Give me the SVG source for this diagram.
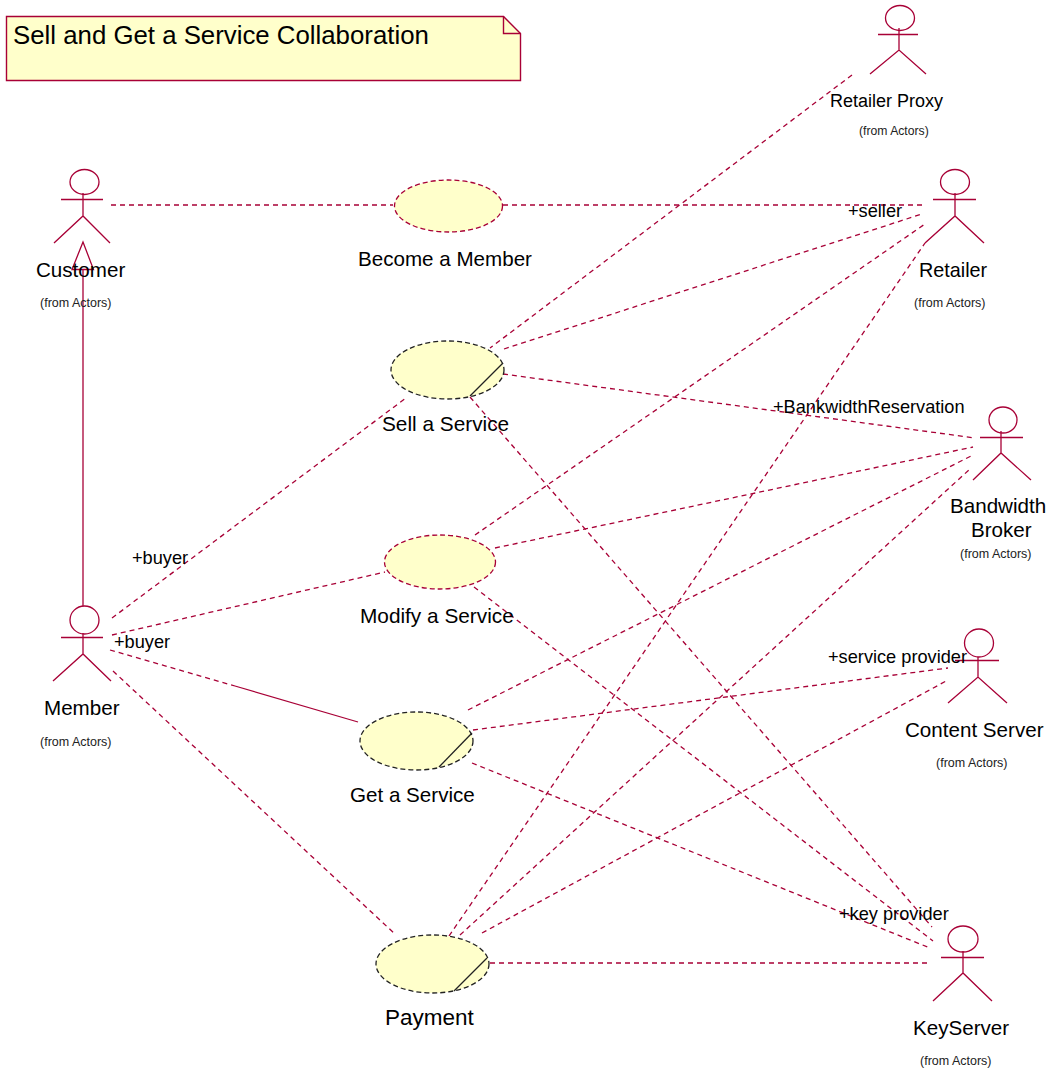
<svg xmlns="http://www.w3.org/2000/svg" width="1052" height="1071" viewBox="0 0 1052 1071">
<style>
text{font-family:"Liberation Sans",Arial,sans-serif;fill:#000}
.n{font-size:20.6px}
.w{font-size:20.8px}
.s{font-size:12.5px;fill:#222}
.r{font-size:18.2px}
.a{fill:none;stroke:#A80036;stroke-width:1.3}
.uc{fill:#FFFFCB;stroke-width:1.3;stroke-dasharray:5 3}
.red{stroke:#A80036}
.blk{stroke:#222}
.d{stroke:#222;stroke-width:1.3;fill:none}
#connectors line{stroke:#A80036;stroke-width:1.3;fill:none}
#connectors line.dash{stroke-dasharray:5 4}
</style>
<rect width="1052" height="1071" fill="#fff"/>
<g id="note">
<path d="M6.500 16.500H503.500L520.500 33.500V80.500H6.500Z" fill="#FFFFCB" stroke="#A80036" stroke-width="1.400"/>
<path d="M503.500 16.500V33.500H520.500" fill="none" stroke="#A80036" stroke-width="1.400"/>
<text x="13" y="44" font-size="25.800">Sell and Get a Service Collaboration</text>
</g>
<g id="connectors">
<line class="dash" x1="111" y1="205" x2="393" y2="205"/>
<line class="dash" x1="503" y1="205" x2="922" y2="205"/>
<line class="dash" x1="852" y1="75" x2="490" y2="348"/>
<line class="dash" x1="504" y1="349" x2="922" y2="214"/>
<line class="dash" x1="475" y1="535" x2="925" y2="224"/>
<line class="dash" x1="449" y1="936" x2="925" y2="243"/>
<line class="dash" x1="503" y1="374" x2="975" y2="438"/>
<line class="dash" x1="495" y1="548" x2="973" y2="447"/>
<line class="dash" x1="468" y1="710" x2="973" y2="455"/>
<line class="dash" x1="460" y1="935" x2="970" y2="469"/>
<line class="dash" x1="473" y1="730" x2="948" y2="668"/>
<line class="dash" x1="482" y1="933" x2="948" y2="680"/>
<line class="dash" x1="470" y1="397" x2="932" y2="927"/>
<line class="dash" x1="474" y1="587" x2="933" y2="941"/>
<line class="dash" x1="472" y1="763" x2="930" y2="948"/>
<line class="dash" x1="490" y1="963" x2="930" y2="963"/>
<line class="dash" x1="112" y1="618" x2="406" y2="398"/>
<line class="dash" x1="112" y1="635" x2="385" y2="572"/>
<line class="dash" x1="110" y1="650" x2="235" y2="686"/>
<line x1="235" y1="686" x2="358" y2="722"/>
<line class="dash" x1="113" y1="671" x2="396" y2="935"/>
<line x1="83" y1="606" x2="83" y2="270"/>
<path d="M83 242L72 269.500H93.500Z" fill="none" stroke="#A80036" stroke-width="1.300"/>
</g>
<g id="customer">
<ellipse class="a" cx="84.500" cy="182" rx="14.500" ry="12.500"/>
<path class="a" d="M61 199.500H103M83 193V216M54 243L83 216L110 243"/>
<text class="n" x="36" y="277">Customer</text>
<text class="s" x="40" y="307">(from Actors)</text>
</g>
<g id="member">
<ellipse class="a" cx="84.500" cy="620" rx="14.500" ry="14"/>
<path class="a" d="M61 637.500H103M83 633V654M53 681L83 654L111 681"/>
<text class="n" x="44" y="715">Member</text>
<text class="s" x="40" y="746">(from Actors)</text>
</g>
<g id="retailer-proxy">
<ellipse class="a" cx="900" cy="18" rx="14.500" ry="12.500"/>
<path class="a" d="M878 34.500H918M899 28V50M870 74L899 50L926 74"/>
<text class="r" x="830" y="107" style="font-size:18px">Retailer Proxy</text>
<text class="s" x="859" y="135" style="font-size:12.200px">(from Actors)</text>
</g>
<g id="retailer">
<ellipse class="a" cx="955" cy="182" rx="14.500" ry="12.500"/>
<path class="a" d="M933 199.500H976M955 193V216M925 243L955 216L984 243"/>
<text class="n" x="919" y="277" style="font-size:19.800px">Retailer</text>
<text class="s" x="914" y="307">(from Actors)</text>
</g>
<g id="bandwidth-broker">
<ellipse class="a" cx="1003" cy="420" rx="14" ry="13"/>
<path class="a" d="M980 437.500H1023M1001 431V453M973 480L1001 453L1031 480"/>
<text class="n" x="950" y="513">Bandwidth</text>
<text class="n" x="971" y="537">Broker</text>
<text class="s" x="960" y="558">(from Actors)</text>
</g>
<g id="content-server">
<ellipse class="a" cx="979" cy="643" rx="14.500" ry="14"/>
<path class="a" d="M955 660.500H999M978 657V677M948 703L978 677L1007 703"/>
<text class="n" x="905" y="737">Content Server</text>
<text class="s" x="936" y="767">(from Actors)</text>
</g>
<g id="key-server">
<ellipse class="a" cx="963" cy="939" rx="15" ry="13"/>
<path class="a" d="M941 957.500H984M963 951V973M933 1001L963 973L992 1001"/>
<text class="n" x="913" y="1035">KeyServer</text>
<text class="s" x="920" y="1065">(from Actors)</text>
</g>
<g id="become-a-member">
<ellipse class="uc red" cx="448.500" cy="206" rx="54" ry="26"/>
<text class="n" x="358" y="266">Become a Member</text>
</g>
<g id="sell-a-service">
<ellipse class="uc blk" cx="447.500" cy="370" rx="56.500" ry="29"/>
<line class="d" x1="503" y1="363" x2="470" y2="396"/>
<text class="w" x="382" y="431">Sell a Service</text>
</g>
<g id="modify-a-service">
<ellipse class="uc red" cx="440" cy="562" rx="55.500" ry="27"/>
<text class="w" x="360" y="623">Modify a Service</text>
</g>
<g id="get-a-service">
<ellipse class="uc blk" cx="416.500" cy="741" rx="56.500" ry="29"/>
<line class="d" x1="472" y1="733" x2="439" y2="767"/>
<text class="n" x="350" y="802">Get a Service</text>
</g>
<g id="payment">
<ellipse class="uc blk" cx="432.500" cy="964" rx="56.500" ry="29"/>
<line class="d" x1="487" y1="958" x2="454" y2="991"/>
<text class="n" x="385" y="1025" style="font-size:22.500px">Payment</text>
</g>
<g id="roles">
<text class="r" x="848" y="217">+seller</text>
<text class="r" x="773" y="413">+BankwidthReservation</text>
<text class="r" x="132" y="564">+buyer</text>
<text class="r" x="114" y="648">+buyer</text>
<text class="r" x="828" y="663">+service provider</text>
<text class="r" x="839" y="920">+key provider</text>
</g>
</svg>
